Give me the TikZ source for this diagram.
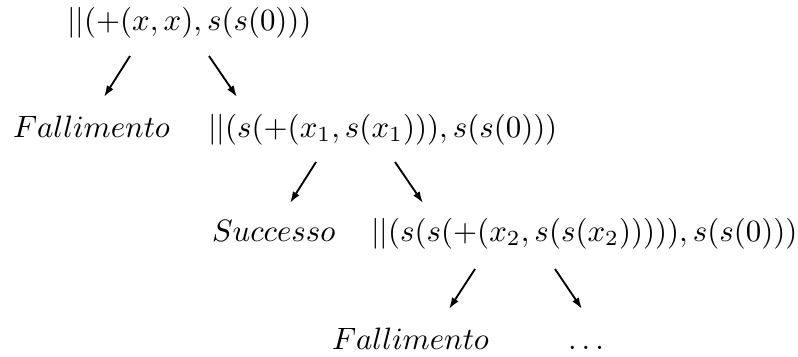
\documentclass[tikz,border=0pt]{standalone}
\usetikzlibrary{arrows.meta}
\begin{document}
\begin{tikzpicture}[x=0.3236pt,y=-0.3236pt,
  term/.style={anchor=base west,inner sep=0pt,outer sep=0pt},
  arr/.style={-{Latex[length=3.7pt,width=2.5pt]},line width=0.6pt}]
\useasboundingbox (0,0) rectangle (798,356);
% row 1
\node[term] (r) at (67,30) {$||(+(x,x),s(s(0)))$};
% row 2
\node[term] (f1) at (13,137) {$Fallimento$};
\node[term] (t1) at (208,137) {$||(s(+(x_1,s(x_1))),s(s(0)))$};
% row 3
\node[term] (s2) at (212,241) {$Successo$};
\node[term] (t2) at (371,241) {$||(s(s(+(x_2,s(s(x_2))))),s(s(0)))$};
% row 4
\node[term] (f3) at (332,349) {$Fallimento$};
\node[term] (d3) at (568,349) {$\ldots$};
% arrow end points
\coordinate (a1s) at (130,56);  \coordinate (a1e) at (104,97);
\coordinate (a2s) at (209,56);  \coordinate (a2e) at (237,97);
\coordinate (b1s) at (316,162); \coordinate (b1e) at (290,203);
\coordinate (b2s) at (395,162); \coordinate (b2e) at (423,203);
\coordinate (c1s) at (475,269); \coordinate (c1e) at (449,309);
\coordinate (c2s) at (555,269); \coordinate (c2e) at (582,309);
\draw[arr] (a1s) -- (a1e);
\draw[arr] (a2s) -- (a2e);
\draw[arr] (b1s) -- (b1e);
\draw[arr] (b2s) -- (b2e);
\draw[arr] (c1s) -- (c1e);
\draw[arr] (c2s) -- (c2e);
\end{tikzpicture}
\end{document}
